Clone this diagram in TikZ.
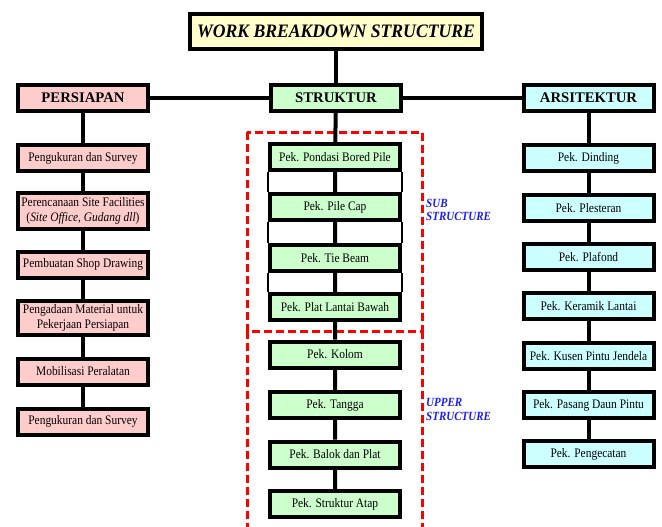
\documentclass[tikz,border=0pt]{standalone}
\usepackage{fontspec}
\setmainfont{Liberation Serif}
\newfontfamily\boxfont{Liberation Serif}[FakeStretch=0.88]
\newfontfamily\titlefont{Liberation Serif}[FakeStretch=0.93]
\definecolor{pinkbox}{HTML}{FFCCCC}
\definecolor{greenbox}{HTML}{CCFFCC}
\definecolor{cyanbox}{HTML}{CCFFFF}
\definecolor{titlebox}{HTML}{FFFFCC}
\definecolor{framered}{HTML}{FF0000}
\definecolor{labelblue}{HTML}{1A1AFF}

\begin{document}
\begin{tikzpicture}[x=1pt, y=-1pt,
    wbsbox/.style={draw, line width=4pt, inner sep=1pt, minimum width=130pt, minimum height=26pt, align=center, font=\boxfont\fontsize{13}{15}\selectfont},
    headbox/.style={wbsbox, font=\fontsize{14.7}{16}\selectfont\bfseries},
    link/.style={line width=4pt},
    sidelink/.style={line width=1.2pt},
    redframe/.style={framered, line width=3pt, dash pattern=on 8pt off 4pt},
    sidelabel/.style={labelblue, anchor=west, align=left, inner sep=0pt, font=\boxfont\fontsize{12.5}{13.5}\selectfont\bfseries\itshape}]
      \useasboundingbox (0,0) rectangle (662,527);

      \node[wbsbox, fill=titlebox, minimum width=292pt, minimum height=35pt, font=\titlefont\fontsize{19}{21}\selectfont\bfseries\itshape] (wbs) at (336,31.5) {WORK BREAKDOWN STRUCTURE};

      \node[headbox, fill=pinkbox] (persiapan) at (83,98) {PERSIAPAN};
      \node[headbox, fill=greenbox] (struktur) at (336,98) {STRUKTUR};
      \node[headbox, fill=cyanbox] (arsitektur) at (588.5,98) {ARSITEKTUR};

      % persiapan
      \node[wbsbox, fill=pinkbox] (ps1) at (83,158) {Pengukuran dan Survey};
      \node[wbsbox, fill=pinkbox, minimum height=36pt] (ps2) at (83,211) {Perencanaan Site Facilities\\(\textit{Site Office, Gudang dll})};
      \node[wbsbox, fill=pinkbox] (ps3) at (83,264.5) {Pembuatan Shop Drawing};
      \node[wbsbox, fill=pinkbox, minimum height=34pt] (ps4) at (83,318) {Pengadaan Material untuk\\Pekerjaan Persiapan};
      \node[wbsbox, fill=pinkbox] (ps5) at (83,371.5) {Mobilisasi Peralatan};
      \node[wbsbox, fill=pinkbox] (ps6) at (83,421.5) {Pengukuran dan Survey};

      % struktur
      \draw[redframe] (247,132) rectangle (422,331);
      \draw[redframe] (247,331) -- (247,527);
      \draw[redframe] (422,331) -- (422,527);
      \node[wbsbox, fill=greenbox] (st1) at (335,157) {Pek. Pondasi Bored Pile};
      \node[wbsbox, fill=greenbox] (st2) at (335,207) {Pek. Pile Cap};
      \node[wbsbox, fill=greenbox] (st3) at (335,258) {Pek. Tie Beam};
      \node[wbsbox, fill=greenbox] (st4) at (335,307) {Pek. Plat Lantai Bawah};
      \node[wbsbox, fill=greenbox] (st5) at (335,354.5) {Pek. Kolom};
      \node[wbsbox, fill=greenbox] (st6) at (335,405) {Pek. Tangga};
      \node[wbsbox, fill=greenbox] (st7) at (335,454.5) {Pek. Balok dan Plat};
      \node[wbsbox, fill=greenbox] (st8) at (335,504) {Pek. Struktur Atap};
      \node[sidelabel] (sub) at (426,210) {SUB\\STRUCTURE};
      \node[sidelabel] (upper) at (426,409.5) {UPPER\\STRUCTURE};

      % arsitektur
      \node[wbsbox, fill=cyanbox] (ar1) at (588.5,158) {Pek. Dinding};
      \node[wbsbox, fill=cyanbox] (ar2) at (588.5,208) {Pek. Plesteran};
      \node[wbsbox, fill=cyanbox] (ar3) at (588.5,257) {Pek. Plafond};
      \node[wbsbox, fill=cyanbox] (ar4) at (588.5,306) {Pek. Keramik Lantai};
      \node[wbsbox, fill=cyanbox] (ar5) at (588.5,356) {Pek. Kusen Pintu Jendela};
      \node[wbsbox, fill=cyanbox] (ar6) at (588.5,405) {Pek. Pasang Daun Pintu};
      \node[wbsbox, fill=cyanbox] (ar7) at (588.5,454) {Pek. Pengecatan};

      \draw[link] (persiapan) -- (struktur) -- (arsitektur);
      \draw[link] (wbs) -- (struktur);
      \draw[link] (persiapan) -- (ps1) -- (ps2) -- (ps3) -- (ps4) -- (ps5) -- (ps6);
      \draw[link] (struktur) -- (st1) -- (st2) -- (st3) -- (st4) -- (st5) -- (st6) -- (st7) -- (st8);
      \draw[link] (arsitektur) -- (ar1) -- (ar2) -- (ar3) -- (ar4) -- (ar5) -- (ar6) -- (ar7);
      \draw[sidelink] (st1.south west) -- (st2.north west) (st2.south west) -- (st3.north west) (st3.south west) -- (st4.north west);
      \draw[sidelink] (st1.south east) -- (st2.north east) (st2.south east) -- (st3.north east) (st3.south east) -- (st4.north east);
    \end{tikzpicture}
\end{document}
